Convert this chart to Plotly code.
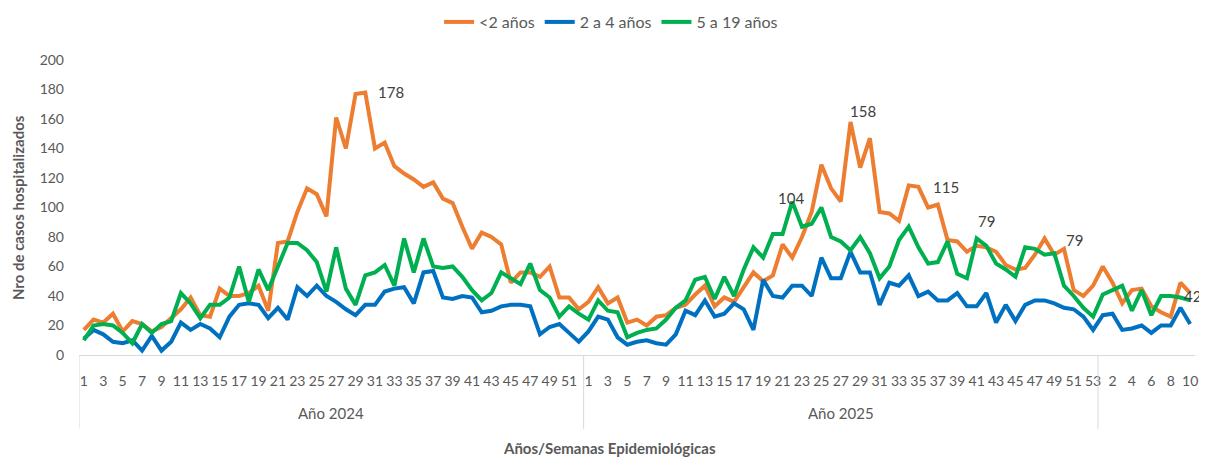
import plotly.graph_objects as go

# ---------------- data ----------------
weeks_2024 = list(range(1, 53))
weeks_2025 = list(range(1, 54))
weeks_2026 = list(range(1, 11))
year_groups = ["Año 2024", "Año 2025", ""]

menores_2 = [
    # 2024
    17, 24, 22, 28, 16, 23, 21, 16, 19, 25, 31, 39, 27, 26, 45, 40, 40, 42, 47, 30,
    76, 77, 97, 113, 109, 94, 161, 140, 177, 178, 140, 144, 128, 123, 119, 114, 117, 106, 103, 87,
    72, 83, 80, 75, 49, 56, 56, 53, 60, 39, 39, 31,
    # 2025
    36, 46, 35, 39, 22, 24, 20, 26, 27, 32, 34, 41, 47, 33, 39, 36, 46, 56, 50, 54,
    75, 66, 80, 97, 129, 113, 104, 158, 127, 147, 97, 96, 91, 115, 114, 100, 102, 78, 77, 70,
    74, 73, 70, 61, 58, 59, 68, 79, 68, 72, 44, 40, 47,
    # 2026
    60, 49, 35, 44, 45, 33, 29, 26, 49, 42,
]

de_2_a_4 = [
    # 2024
    11, 17, 14, 9, 8, 10, 3, 13, 3, 9, 22, 17, 21, 18, 12, 26, 34, 35, 34, 25,
    32, 24, 46, 40, 47, 40, 36, 31, 27, 34, 34, 43, 45, 46, 35, 56, 57, 39, 38, 40,
    39, 29, 30, 33, 34, 34, 33, 14, 19, 21, 15, 9,
    # 2025
    16, 26, 24, 12, 7, 9, 10, 8, 7, 14, 30, 27, 37, 26, 28, 35, 31, 17, 51, 40,
    39, 47, 47, 40, 66, 52, 52, 70, 56, 56, 34, 49, 47, 54, 40, 43, 37, 37, 42, 33,
    33, 42, 22, 34, 23, 34, 37, 37, 35, 32, 31, 26, 17,
    # 2026
    27, 28, 17, 18, 20, 15, 20, 20, 32, 21,
]

de_5_a_19 = [
    # 2024
    10, 20, 21, 20, 15, 8, 21, 15, 21, 23, 42, 35, 25, 34, 34, 39, 60, 36, 58, 44,
    60, 76, 76, 71, 63, 43, 73, 45, 34, 54, 56, 61, 47, 79, 56, 79, 60, 59, 60, 53,
    44, 37, 42, 56, 52, 48, 62, 44, 39, 26, 33, 28,
    # 2025
    24, 37, 30, 29, 12, 15, 17, 18, 24, 32, 37, 51, 53, 38, 53, 40, 58, 73, 66, 82,
    82, 104, 87, 89, 100, 80, 77, 71, 80, 69, 52, 60, 78, 87, 73, 62, 63, 77, 55, 52,
    79, 74, 62, 58, 53, 73, 72, 68, 69, 47, 40, 32, 26,
    # 2026
    41, 44, 47, 30, 44, 27, 40, 40, 39, 37,
]

series_names = ["<2 años", "2 a 4 años", "5 a 19 años"]
series_colors = ["#ED7D31", "#0070C0", "#00B050"]

# ---------------- categories ----------------
years_all = [2024] * len(weeks_2024) + [2025] * len(weeks_2025) + [2026] * len(weeks_2026)
weeks_all = weeks_2024 + weeks_2025 + weeks_2026
categories = [f"{y}-S{w:02d}" for y, w in zip(years_all, weeks_all)]

FONT = "Lato"
TXT = "#595959"

fig = go.Figure()
for name, vals, col in zip(series_names, [menores_2, de_2_a_4, de_5_a_19], series_colors):
    fig.add_trace(go.Scatter(
        x=categories, y=vals, name=name, mode="lines",
        line=dict(color=col, width=4), hoverinfo="x+y+name",
    ))

# data labels: (series values, index, xshift, yshift)
label_specs = [
    (menores_2, 29, 26, 0),
    (menores_2, 79, 12, 11),
    (de_5_a_19, 73, -1, 4),
    (menores_2, 85, 37, -2),
    (de_5_a_19, 92, 10, 17),
    (menores_2, 99, 30, -2),
    (menores_2, 114, 2, -3),
]
annotations = []
for vals, idx, xs, ys in label_specs:
    annotations.append(dict(
        x=categories[idx], y=vals[idx], xref="x", yref="y",
        text=str(vals[idx]), showarrow=False, xshift=xs, yshift=ys,
        font=dict(family=FONT, size=15, color="#404040"),
    ))

# year group labels and dividers
n24, n25, n26 = len(weeks_2024), len(weeks_2025), len(weeks_2026)
bounds = [(-0.5, n24 - 0.5), (n24 - 0.5, n24 + n25 - 0.5), (n24 + n25 - 0.5, n24 + n25 + n26 - 0.5)]
shapes = []
for (a, b), lab in zip(bounds, year_groups):
    if lab:
        annotations.append(dict(
            x=(a + b) / 2, y=-0.195, xref="x", yref="paper", text=lab, showarrow=False,
            yanchor="middle", font=dict(family=FONT, size=15, color=TXT),
        ))
for a in [bounds[0][0], bounds[1][0], bounds[2][0]]:
    shapes.append(dict(type="line", xref="x", yref="paper", x0=a, x1=a, y0=0, y1=-0.25,
                       line=dict(color="#D9D9D9", width=1)))

annotations.append(dict(
    x=0.475, y=-0.315, xref="paper", yref="paper", text="<b>Años/Semanas Epidemiológicas</b>",
    showarrow=False, yanchor="middle", font=dict(family=FONT, size=15, color=TXT),
))
annotations.append(dict(
    x=-0.055, y=0.5, xref="paper", yref="paper", text="<b>Nro de casos hospitalizados</b>",
    showarrow=False, textangle=-90, xanchor="center", yanchor="middle",
    font=dict(family=FONT, size=15, color=TXT),
))

fig.update_layout(
    width=1199, height=452,
    margin=dict(l=71, r=12, t=52, b=105, autoexpand=False),
    paper_bgcolor="white", plot_bgcolor="white",
    font=dict(family=FONT, size=14, color=TXT),
    showlegend=True,
    legend=dict(orientation="h", xref="container", yref="container",
                x=0.503, xanchor="center", y=0.969, yanchor="middle",
                font=dict(family=FONT, size=16, color=TXT), bgcolor="rgba(0,0,0,0)"),
    annotations=annotations,
    shapes=shapes,
    xaxis=dict(
        type="category", categoryorder="array", categoryarray=categories,
        range=[-0.5, len(categories) - 0.5], automargin=False,
        tickmode="array", tickvals=categories[::2], ticktext=[str(w) for w in weeks_all[::2]],
        tickangle=0, showgrid=False, showline=True, linecolor="#D9D9D9", linewidth=1,
        ticks="", zeroline=False, tickfont=dict(family=FONT, size=14, color=TXT),
        ticklabelstandoff=13,
    ),
    yaxis=dict(
        range=[0, 200], tickmode="array", tickvals=list(range(0, 201, 20)), automargin=False,
        showgrid=False, zeroline=False, showline=False, ticks="",
        tickfont=dict(family=FONT, size=14, color=TXT), ticklabelstandoff=14,
    ),
)

fig.write_html("out.html")
